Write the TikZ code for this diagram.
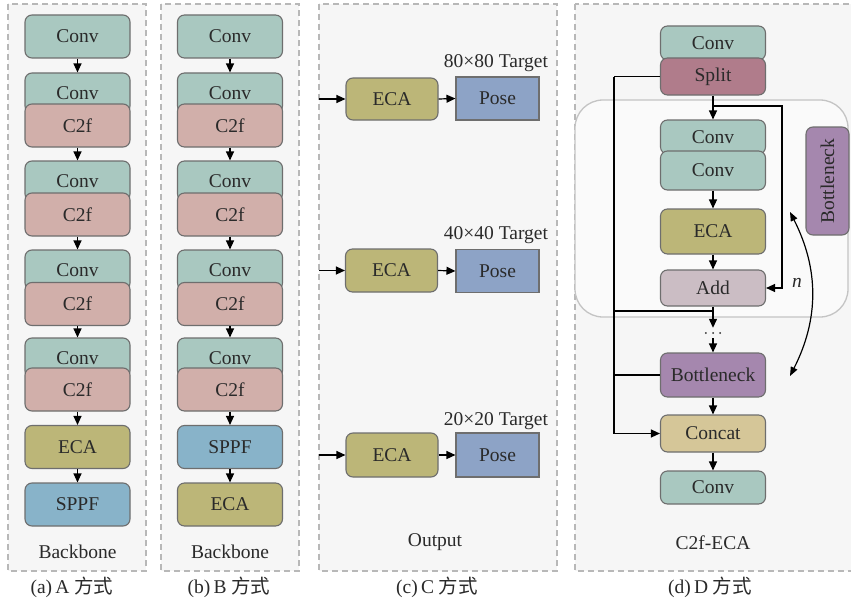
\documentclass[tikz,border=0pt]{standalone}
\usepackage{fontspec}
\setmainfont{Liberation Serif}
\newfontfamily\cjk{Noto Sans CJK SC}
\usetikzlibrary{arrows.meta}
\newcommand\myfs{\fontsize{19.5}{22}\selectfont}
\definecolor{cConv}{HTML}{A9C8C0}
\definecolor{cC2f}{HTML}{D1AFAA}
\definecolor{cECA}{HTML}{BCB678}
\definecolor{cSPPF}{HTML}{88B3C9}
\definecolor{cPose}{HTML}{8DA3C6}
\definecolor{cSplit}{HTML}{B07C8B}
\definecolor{cAdd}{HTML}{CBBDC4}
\definecolor{cBn}{HTML}{A587AE}
\definecolor{cConcat}{HTML}{D5C698}
\definecolor{bd}{HTML}{6E6E6E}
\definecolor{txt}{HTML}{2A2A2A}
\definecolor{pd}{HTML}{B8B8B8}
\definecolor{pf}{HTML}{F6F6F6}
\definecolor{rg}{HTML}{C4C4C4}
\tikzset{
  blk/.style={draw=bd, line width=1.1pt, rounded corners=7pt, minimum width=105pt, inner sep=0pt, text=txt, font=\myfs},
  convb/.style={blk, fill=cConv},
  c2fb/.style={blk, fill=cC2f, minimum height=43pt},
  ecab/.style={blk, fill=cECA},
  sppfb/.style={blk, fill=cSPPF, minimum height=43pt},
  poseb/.style={draw=bd, line width=1.1pt, fill=cPose, minimum width=83pt, minimum height=43pt, inner sep=0pt, text=txt, font=\myfs},
  arr/.style={-{Triangle[length=9pt,width=8pt]}, line width=1.2pt, draw=black},
  ln/.style={line width=1.2pt, draw=black},
  panel/.style={draw=pd, dash pattern=on 6pt off 4pt, line width=1.2pt, fill=pf},
  lbl/.style={text=txt, font=\myfs, inner sep=0pt},
}
\begin{document}
\begin{tikzpicture}[x=1pt,y=-1pt]
\useasboundingbox (0,0) rectangle (851,602);
\clip (0,0) rectangle (851,602);
\fill[white] (0,0) rectangle (851,602);
% panels
\draw[panel] (8,4) rectangle (146,571);
\draw[panel] (161,4) rectangle (299,571);
\draw[panel] (319,4) rectangle (557,571);
\draw[panel] (575,4) rectangle (870,571);

% ---------- panel (a)
\node[convb, minimum height=43pt] (a1) at (77.5,36.5) {Conv};
\node[convb, minimum height=40pt] (a2c) at (77.5,93) {Conv};
\node[c2fb] (a2) at (77.5,125.5) {C2f};
\node[convb, minimum height=40pt] (a3c) at (77.5,181) {Conv};
\node[c2fb] (a3) at (77.5,214.5) {C2f};
\node[convb, minimum height=40pt] (a4c) at (77.5,270) {Conv};
\node[c2fb] (a4) at (77.5,304) {C2f};
\node[convb, minimum height=40pt] (a5c) at (77.5,358) {Conv};
\node[c2fb] (a5) at (77.5,389.5) {C2f};
\node[ecab, minimum height=43pt] (a6) at (77.5,447) {ECA};
\node[sppfb] (a7) at (77.5,504.5) {SPPF};
\draw[arr] (a1.south) -- (a2c.north);
\draw[arr] (a2.south) -- (a3c.north);
\draw[arr] (a3.south) -- (a4c.north);
\draw[arr] (a4.south) -- (a5c.north);
\draw[arr] (a5.south) -- (a6.north);
\draw[arr] (a6.south) -- (a7.north);
\node[lbl] (abb) at (77.5,552) {Backbone};
\node[lbl] (acap) at (72,587) {(a)\,A {\cjk 方式}};

% ---------- panel (b)
\node[convb, minimum height=43pt] (b1) at (230,36.5) {Conv};
\node[convb, minimum height=40pt] (b2c) at (230,93) {Conv};
\node[c2fb] (b2) at (230,125.5) {C2f};
\node[convb, minimum height=40pt] (b3c) at (230,181) {Conv};
\node[c2fb] (b3) at (230,214.5) {C2f};
\node[convb, minimum height=40pt] (b4c) at (230,270) {Conv};
\node[c2fb] (b4) at (230,304) {C2f};
\node[convb, minimum height=40pt] (b5c) at (230,358) {Conv};
\node[c2fb] (b5) at (230,389.5) {C2f};
\node[sppfb] (b6) at (230,447) {SPPF};
\node[ecab, minimum height=43pt] (b7) at (230,504.5) {ECA};
\draw[arr] (b1.south) -- (b2c.north);
\draw[arr] (b2.south) -- (b3c.north);
\draw[arr] (b3.south) -- (b4c.north);
\draw[arr] (b4.south) -- (b5c.north);
\draw[arr] (b5.south) -- (b6.north);
\draw[arr] (b6.south) -- (b7.north);
\node[lbl] (bbb) at (230,552) {Backbone};
\node[lbl] (bcap) at (229,587) {(b)\,B {\cjk 方式}};

% ---------- panel (c)
\node[ecab, minimum width=92pt, minimum height=42pt] (e1) at (392,99) {ECA};
\node[poseb] (p1) at (497.5,98.5) {Pose};
\node[lbl] (t1) at (496,63) {80×80 Target};
\node[ecab, minimum width=92pt, minimum height=43pt] (e2) at (391.5,270.5) {ECA};
\node[poseb] (p2) at (497.5,271) {Pose};
\node[lbl] (t2) at (496,235) {40×40 Target};
\node[ecab, minimum width=92pt, minimum height=44pt] (e3) at (392,455) {ECA};
\node[poseb, minimum height=44pt] (p3) at (497.5,455) {Pose};
\node[lbl] (t3) at (496,421) {20×20 Target};
\coordinate (in1) at (319,99);
\coordinate (in2) at (319,270.5);
\coordinate (in3) at (319,455);
\draw[arr] (in1) -- (e1.west);
\draw[arr] (in2) -- (e2.west);
\draw[arr] (in3) -- (e3.west);
\draw[arr] (e1.east) -- (p1.west);
\draw[arr] (e2.east) -- (p2.west);
\draw[arr] (e3.east) -- (p3.west);
\node[lbl] (cout) at (435,542) {Output};
\node[lbl] (ccap) at (437,587) {(c)\,C {\cjk 方式}};

% ---------- panel (d)
\draw[draw=rg, line width=1.3pt, fill=white!50!pf, rounded corners=28pt] (575,100) rectangle (848,317);
\node[convb, minimum height=34pt] (d0) at (713,43) {Conv};
\node[blk, fill=cSplit, minimum height=37pt] (split) at (713,76.5) {Split};
\node[convb, minimum height=34pt] (ic1) at (713,137) {Conv};
\node[convb, minimum height=39pt] (ic2) at (713,170.5) {Conv};
\node[ecab, minimum height=45pt] (deca) at (713,231.5) {ECA};
\node[blk, fill=cAdd, minimum height=36pt] (add) at (713,288) {Add};
\node[inner sep=0pt, minimum width=20pt, minimum height=10pt] (dots) at (713,333) {};
\fill[txt] (dots.center) circle (1pt) (dots.west) ++(3,0) circle (1pt) (dots.east) ++(-3,0) circle (1pt);
\node[blk, fill=cBn, minimum height=44pt] (bn) at (713,375) {Bottleneck};
\node[blk, fill=cConcat, minimum height=37pt] (concat) at (713,433.5) {Concat};
\node[convb, minimum height=33pt] (dout) at (713,487.5) {Conv};
\node[blk, fill=cBn, minimum width=108pt, minimum height=43pt, rotate=90] (bnv) at (827.5,181) {Bottleneck};
\node[lbl] (dlab) at (713,543) {C2f-ECA};
\node[lbl] (dcap) at (710,587) {(d)\,D {\cjk 方式}};
\node[lbl, font=\myfs\itshape] (nlab) at (797,283) {n};

\coordinate (busT) at (614,76.5);
\coordinate (r1) at (713,106);
\coordinate (r2) at (782,106);
\coordinate (j1) at (713,311);
\coordinate (c1) at (790,212);
\coordinate (c2) at (790,376);
\draw[ln] (split.west) -- (busT);
\draw[arr] (busT) |- (concat.west);
\draw[arr] (split.south) -- (ic1.north);
\draw[arr] (r1) -- (r2) |- (add.east);
\draw[arr] (ic2.south) -- (deca.north);
\draw[arr] (deca.south) -- (add.north);
\draw[arr] (add.south) -- (dots.north);
\draw[ln] (j1) -- (j1 -| busT);
\draw[arr] (dots.south) -- (bn.north);
\draw[ln] (bn.west) -- (bn.west -| busT);
\draw[arr] (bn.south) -- (concat.north);
\draw[arr] (concat.south) -- (dout.north);
\draw[{Triangle[length=9pt,width=7pt]}-{Triangle[length=9pt,width=7pt]}, line width=1.2pt] (c1) to[bend left=27] (c2);
\end{tikzpicture}
\end{document}
